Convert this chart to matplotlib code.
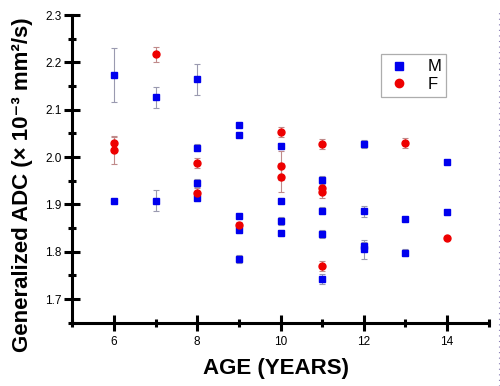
import matplotlib
matplotlib.use("Agg")
from matplotlib import pyplot as plt
from matplotlib.lines import Line2D

plt.rcParams['font.family'] = ['Liberation Sans', 'DejaVu Sans']

# male series: age, ADC, error
m_age = [6, 6, 7, 7, 8, 8, 8, 8, 9, 9, 9, 9, 9, 10, 10, 10, 10,
         11, 11, 11, 11, 12, 12, 12, 12, 13, 13, 14, 14]
m_adc = [2.173, 1.908, 2.126, 1.908, 2.164, 2.020, 1.945, 1.914,
         2.067, 2.046, 1.876, 1.845, 1.784, 2.024, 1.908, 1.865, 1.840,
         1.952, 1.887, 1.838, 1.742, 2.028, 1.885, 1.812, 1.805,
         1.870, 1.798, 1.989, 1.883]
m_err = [0.057, 0.004, 0.023, 0.022, 0.032, 0.008, 0.008, 0.006,
         0.004, 0.004, 0.004, 0.006, 0.008, 0.006, 0.006, 0.008, 0.006,
         0.008, 0.008, 0.008, 0.010, 0.008, 0.012, 0.008, 0.020,
         0.004, 0.008, 0.004, 0.006]

# female series
f_age = [6, 6, 7, 8, 8, 9, 10, 10, 10, 11, 11, 11, 11, 13, 14]
f_adc = [2.030, 2.015, 2.217, 1.987, 1.924, 1.857, 2.053, 1.982, 1.957,
         2.028, 1.935, 1.926, 1.770, 2.030, 1.830]
f_err = [0.012, 0.030, 0.016, 0.010, 0.010, 0.006, 0.010, 0.030, 0.030,
         0.010, 0.010, 0.012, 0.010, 0.010, 0.004]

fig = plt.figure(figsize=(5, 3.86), dpi=100)
ax = fig.add_axes([0.1446, 0.164, 0.8328, 0.797])

ax.errorbar(m_age, m_adc, yerr=m_err, fmt='s', color='#0000ee', ms=4.2,
            ecolor='#9a9ab0', elinewidth=0.8, capsize=2.5, capthick=0.8,
            zorder=3)
ax.errorbar(f_age, f_adc, yerr=f_err, fmt='o', color='#ee0000', ms=5,
            ecolor='#c08a8a', elinewidth=0.8, capsize=2.5, capthick=0.8,
            zorder=3)

ax.set_xlim(5, 15)
ax.set_ylim(1.65, 2.3)
ax.set_xticks([6, 8, 10, 12, 14])
ax.set_xticks([5, 7, 9, 11, 13, 15], minor=True)
ax.set_yticks([1.7, 1.8, 1.9, 2.0, 2.1, 2.2, 2.3])
ax.set_yticks([1.65, 1.75, 1.85, 1.95, 2.05, 2.15, 2.25], minor=True)
ax.set_yticklabels(['1.7', '1.8', '1.9', '2.0', '2.1', '2.2', '2.3'])

for s in ['top', 'right']:
    ax.spines[s].set_visible(False)
for s in ['left', 'bottom']:
    ax.spines[s].set_linewidth(2.2)

ax.tick_params(which='major', direction='inout', length=11, width=2.2,
               labelsize=8.5, pad=2)
ax.tick_params(which='minor', direction='inout', length=6, width=2.2)
ax.tick_params(axis='x', which='major', pad=4)

ax.set_xlabel('AGE (YEARS)', fontsize=16, fontweight='bold')
ax.xaxis.set_label_coords(0.49, -0.115)
ax.set_ylabel('Generalized ADC (× 10⁻³ mm²/s)',
              fontsize=16, fontweight='bold')
ax.yaxis.set_label_coords(-0.094, 0.447)

handles = [Line2D([], [], ls='none', marker='s', color='#0000ee', ms=5.5),
           Line2D([], [], ls='none', marker='o', color='#ee0000', ms=6)]
leg = ax.legend(handles, ['M', 'F'], loc='upper left',
                bbox_to_anchor=(0.741, 0.872), fontsize=12,
                frameon=True, fancybox=False, edgecolor='#999999',
                handletextpad=0.9, borderpad=0.3, labelspacing=0.15,
                handlelength=1.6, borderaxespad=0)
leg.get_frame().set_linewidth(0.9)

# faint dotted line at the right edge of the picture
fig.add_artist(Line2D([0.997, 0.997], [0.0, 0.97], transform=fig.transFigure,
                      color='#8a7fb5', lw=0.8, ls=(0, (1, 4))))

fig.savefig('out.png', dpi=100)
